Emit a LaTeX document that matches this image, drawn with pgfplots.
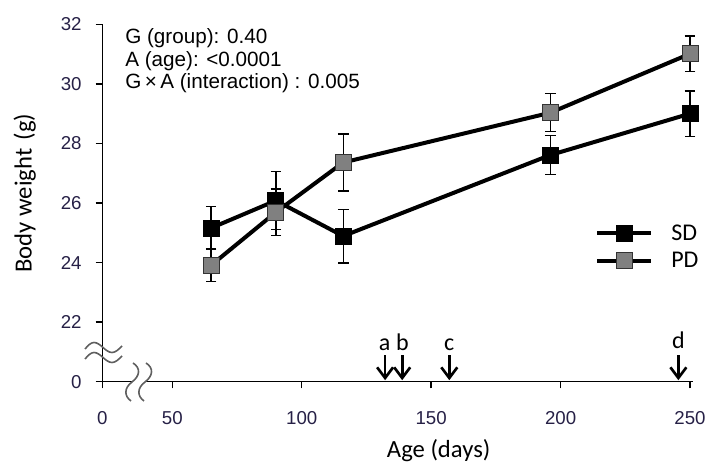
\documentclass[border=0pt]{standalone}
\usepackage{pgfplots}
\pgfplotsset{compat=1.18}
\usetikzlibrary{arrows.meta}
\usepackage{fontspec}
\setmainfont{Liberation Sans}
\newfontfamily\calibri{Carlito}
\definecolor{pdgray}{RGB}{128,128,128}
\definecolor{ticklab}{RGB}{38,32,70}
\definecolor{brk}{RGB}{95,95,95}
\tikzset{evarrow/.style={black, line width=2pt, -{Straight Barb[length=8pt,width=12pt]}}}
\begin{document}
\begin{tikzpicture}
\begin{scope}[x=0.75pt,y=-0.75pt,shift={(-76.725pt,286.275pt)}]
\useasboundingbox (0,0) rectangle (720,474);
\end{scope}
\begin{axis}[
  at={(0,0)}, anchor=south west,
  scale only axis, width=440.8pt, height=268.05pt,
  xmin=22.95, xmax=250, ymin=20, ymax=32,
  axis lines=left, axis line style={draw=none},
  clip=false,
  xtick={22.95,50,100,150,200,250}, xticklabels={0,50,100,150,200,250},
  ytick={20,22,24,26,28,30,32}, yticklabels={0,22,24,26,28,30,32},
  tick align=outside, major tick length=5pt,
  tick style={black, line width=1.1pt},
  ticklabel style={font=\fontsize{14}{16}\selectfont, text=ticklab},
  xticklabel style={yshift=-13.5pt},
  yticklabel style={xshift=-7pt},
  /pgf/number format/assume math mode=true,
  legend image code/.code={
    \draw[mark repeat=2,mark phase=2,#1] plot coordinates {(0pt,0pt) (20pt,0pt) (40pt,0pt)};},
  legend style={at={(axis cs:213.3,24.52)}, anchor=west, draw=none, fill=none,
    inner sep=0pt, row sep=7.5pt, font=\calibri\fontsize{18}{20}\selectfont,
    nodes={inner sep=0pt}, /tikz/column 1/.style={column sep=14pt}},
  legend cell align=left,
]
% axis lines with break
\draw[black, line width=1.1pt] (axis cs:22.95,20) -- (axis cs:22.95,32);
\draw[black, line width=1.1pt] (axis cs:22.95,20) -- (axis cs:34.9,20);
\draw[black, line width=1.1pt] (axis cs:39.5,20) -- (axis cs:251,20);

\addplot[black, line width=3pt, mark=square*, mark size=6pt,
  mark options={fill=black, draw=black, line width=0.6pt},
  error bars/.cd, y dir=both, y explicit,
  error bar style={line width=1pt, black},
  error mark options={rotate=90, mark size=4pt, line width=1pt, black}]
coordinates {
  (65,25.16) +- (0,0.73)
  (90,26.08) +- (0,0.97)
  (116,24.89) +- (0,0.90)
  (196,27.61) +- (0,0.65)
  (250,29.00) +- (0,0.76)
};
\addplot[black, line width=3pt, mark=square*, mark size=6pt,
  mark options={fill=pdgray, draw=black!80, line width=0.6pt},
  error bars/.cd, y dir=both, y explicit,
  error bar style={line width=1pt, black},
  error mark options={rotate=90, mark size=4pt, line width=1pt, black}]
coordinates {
  (65,23.91) +- (0,0.54)
  (90,25.69) +- (0,0.78)
  (116,27.36) +- (0,0.96)
  (196,29.03) +- (0,0.64)
  (250,31.01) +- (0,0.60)
};
\addlegendimage{draw=black, line width=1.5pt, mark=square*, mark size=5.6pt,
  mark options={fill=black, draw=black, line width=0.5pt}}
\addlegendentry{SD}
\addlegendimage{draw=black, line width=1.5pt, mark=square*, mark size=5.6pt,
  mark options={fill=pdgray, draw=black, line width=0.5pt}}
\addlegendentry{PD}

% event arrows
\draw[evarrow] (axis cs:132.2,20.89) -- (axis cs:132.2,20.05);
\draw[evarrow] (axis cs:138.8,20.89) -- (axis cs:138.8,20.05);
\draw[evarrow] (axis cs:157.0,20.89) -- (axis cs:157.0,20.05);
\draw[evarrow] (axis cs:245.5,20.89) -- (axis cs:245.5,20.05);
\node[anchor=base, font=\calibri\fontsize{18}{20}\selectfont] at (axis cs:132.0,21.05) {a};
\node[anchor=base, font=\calibri\fontsize{18}{20}\selectfont] at (axis cs:138.9,21.05) {b};
\node[anchor=base, font=\calibri\fontsize{18}{20}\selectfont] at (axis cs:157.0,21.05) {c};
\node[anchor=base, font=\calibri\fontsize{18}{20}\selectfont] at (axis cs:245.5,21.12) {d};
\end{axis}
\begin{scope}[x=0.75pt,y=-0.75pt,shift={(-76.725pt,286.275pt)}]
% y-axis break marks
\draw[brk, line width=1.2pt] (85,349) sin (94,342.5) cos (103,347.5) sin (112,352.5) cos (122,346);
\draw[brk, line width=1.2pt] (85,359) sin (94,352.5) cos (103,357.5) sin (112,362.5) cos (122,356);
% x-axis break marks
\draw[brk, line width=1.2pt] (133,363) .. controls (141,368) and (140,376) .. (132,382) .. controls (124,388) and (124,396) .. (131,401);
\draw[brk, line width=1.2pt] (146,363) .. controls (154,368) and (153,376) .. (145,382) .. controls (137,388) and (137,396) .. (144,401);
% statistics text
\node[anchor=base west, inner sep=0pt, font=\fontsize{15.5}{18}\selectfont] at (125,44) {G (group): 0.40};
\node[anchor=base west, inner sep=0pt, font=\fontsize{15.5}{18}\selectfont] at (125,66.5) {A (age): <0.0001};
\node[anchor=base west, inner sep=0pt, font=\fontsize{15.5}{18}\selectfont] at (125,88.5) {G\,×\,A (interaction) : 0.005};
% axis labels
\node[anchor=base west, inner sep=0pt, font=\calibri\fontsize{18.5}{20}\selectfont] at (386.7,458) {Age (days)};
\node[anchor=base west, inner sep=0pt, rotate=90, font=\calibri\fontsize{18.5}{20}\selectfont] at (31.7,273) {Body weight\,\,(g)};
\end{scope}
\end{tikzpicture}
\end{document}
